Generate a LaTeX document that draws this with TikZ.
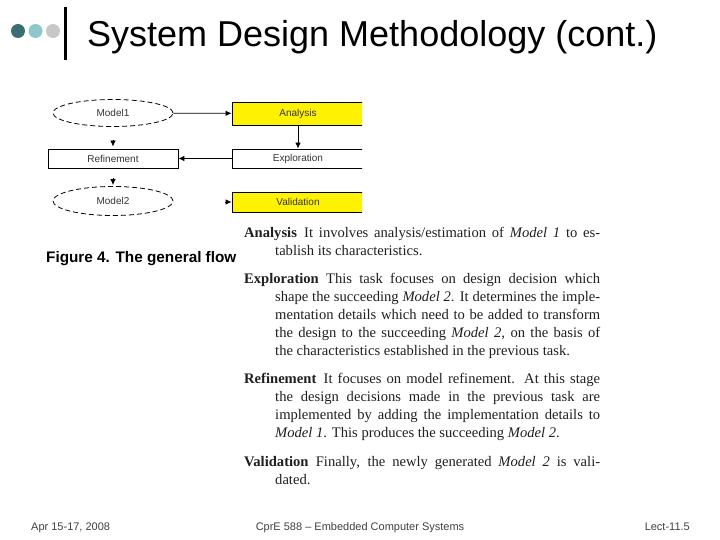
\documentclass[tikz,border=0pt]{standalone}
\usepackage{fontspec}
\setmainfont{Liberation Sans}
\newfontfamily\paperfont{Liberation Serif}
\usetikzlibrary{arrows.meta,shapes.geometric}

\definecolor{dotdark}{HTML}{3A6E73}
\definecolor{dotlight}{HTML}{8CC8CC}
\definecolor{dotgray}{HTML}{C8C8C8}
\definecolor{footgray}{HTML}{404040}

\newcommand{\hangpar}{\leavevmode\tolerance=9999\hyphenpenalty=10000\hangindent=31pt\hangafter=1\relax}

\tikzset{
  modelell/.style={draw, ellipse, dashed, dash pattern=on 5pt off 3pt, line width=0.8pt,
    minimum width=120pt, minimum height=27pt, inner sep=0pt, text=black!80,
    font=\fontsize{10}{12}\selectfont},
  taskbox/.style={draw, line width=0.8pt, minimum width=132pt, minimum height=20pt,
    inner sep=0pt, text=black!80, font=\fontsize{10}{12}\selectfont},
  flowarrow/.style={line width=0.8pt, -{Latex[length=6pt,width=5.5pt]}},
  paratext/.style={anchor=base west, inner sep=0pt, text width=356pt, align=justify,
    text=black!88, font=\paperfont\fontsize{14.6}{18}\selectfont},
  footer/.style={inner sep=0pt, text=footgray, font=\fontsize{11}{13}\selectfont}
}

\begin{document}
\begin{tikzpicture}[x=1pt, y=-1pt]
\useasboundingbox (0,0) rectangle (720,540);
\fill[dotdark] (18,31) circle (7pt);
\fill[dotlight] (35.5,31) circle (7pt);
\fill[dotgray] (53,31) circle (7pt);
\draw[line width=3pt] (65.5,7) -- (65.5,60);
\node[anchor=base west, inner sep=0pt, font=\fontsize{36}{40}\selectfont] (title) at (87,47) {System Design Methodology (cont.)};

\begin{scope}
\clip (0,90) rectangle (362,225);
\node[modelell] (model1) at (113,113) {Model1};
\node[taskbox, fill=yellow, minimum height=23pt] (analysis) at (298,113.5) {Analysis};
\node[taskbox, minimum width=130pt, minimum height=19pt] (refinement) at (113,158.5) {Refinement};
\node[taskbox, minimum height=19pt] (exploration) at (298,158.5) {Exploration};
\node[modelell, minimum height=29pt] (model2) at (113,201) {Model2};
\node[taskbox, fill=yellow] (validation) at (298,202) {Validation};
\end{scope}
\draw[flowarrow] (model1) -- (analysis);
\draw[flowarrow] (analysis) -- (exploration);
\draw[flowarrow] (exploration) -- (refinement);
\draw[flowarrow] ([yshift=9pt]refinement.north) -- ([yshift=2pt]refinement.north);
\draw[flowarrow] ([yshift=8pt]model2.north) -- ([yshift=1pt]model2.north);
\draw[flowarrow] ([xshift=-7pt]validation.west) -- (validation.west);

\node[anchor=base west, inner sep=0pt, font=\bfseries\fontsize{15.3}{18}\selectfont] (caption) at (46,262) {Figure 4. The general flow};

\node[paratext] (analysisText) at (244,237) {\hangpar
\textbf{Analysis}\enskip It involves analysis/estimation of \textit{Model 1} to es-\linebreak
tablish its characteristics.\par};
\node[paratext] (explorationText) at (244,283) {\hangpar
\textbf{Exploration}\enskip This task focuses on design decision which\linebreak
shape the succeeding \textit{Model 2}. It determines the imple-\linebreak
mentation details which need to be added to transform\linebreak
the design to the succeeding \textit{Model 2}, on the basis of\linebreak
the characteristics established in the previous task.\par};
\node[paratext] (refinementText) at (244,383) {\hangpar
\textbf{Refinement}\enskip It focuses on model refinement. At this stage\linebreak
the design decisions made in the previous task are\linebreak
implemented by adding the implementation details to\linebreak
\textit{Model 1}. This produces the succeeding \textit{Model 2}.\par};
\node[paratext] (validationText) at (244,466) {\hangpar
\textbf{Validation}\enskip Finally, the newly generated \textit{Model 2} is vali-\linebreak
dated.\par};

\node[footer, anchor=base west] (date) at (31,530) {Apr 15-17, 2008};
\node[footer, anchor=base] (course) at (360,530) {CprE 588 -- Embedded Computer Systems};
\node[footer, anchor=base east] (lect) at (690,530) {Lect-11.5};
\end{tikzpicture}
\end{document}
